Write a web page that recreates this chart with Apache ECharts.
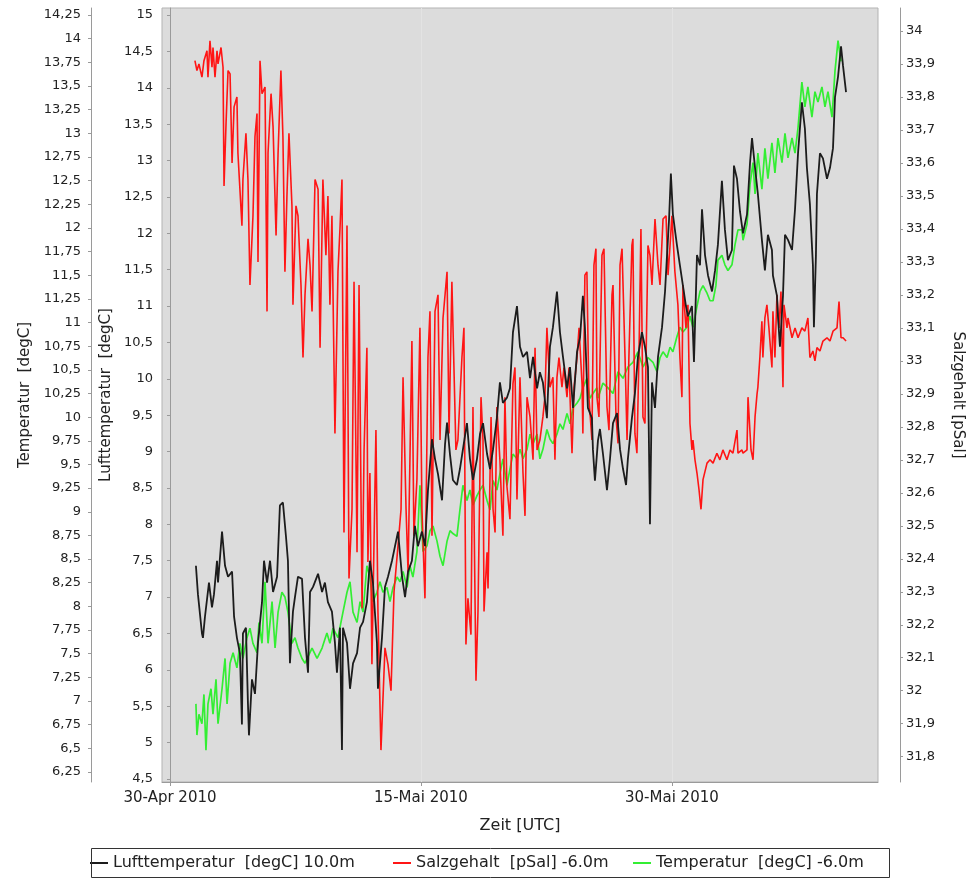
<!DOCTYPE html>
<html><head><meta charset="utf-8">
<script src="https://cdn.jsdelivr.net/npm/echarts@6/dist/echarts.min.js"></script>
<style>html,body{margin:0;padding:0;background:#fff}#c{width:973px;height:879px}</style>
</head><body><div id="c"></div>
<script>
// Zeit in Tagen seit 30-Apr-2010 00:00 UTC, Wert
const luftTemperatur = [[1.55,7.43],[1.67,7.04],[1.91,6.5],[1.97,6.44],[2.09,6.73],[2.33,7.2],[2.51,6.86],[2.63,7.04],[2.81,7.5],[2.87,7.2],[3.11,7.9],[3.29,7.43],[3.47,7.28],[3.71,7.35],[3.83,6.73],[4.0,6.44],[4.18,6.23],[4.3,5.25],[4.36,6.5],[4.54,6.58],[4.66,5.53],[4.72,5.1],[4.9,5.87],[5.08,5.67],[5.26,6.37],[5.5,6.93],[5.62,7.5],[5.8,7.2],[5.98,7.5],[6.16,7.07],[6.4,7.28],[6.57,8.26],[6.75,8.3],[6.93,7.84],[7.05,7.5],[7.17,6.09],[7.35,6.8],[7.47,7.0],[7.65,7.28],[7.89,7.25],[8.07,6.44],[8.25,5.96],[8.37,7.07],[8.55,7.14],[8.85,7.32],[9.09,7.07],[9.26,7.2],[9.44,6.93],[9.68,6.8],[9.86,6.37],[9.98,5.96],[10.16,6.58],[10.28,4.9],[10.34,6.58],[10.58,6.37],[10.76,5.74],[10.94,6.09],[11.18,6.23],[11.36,6.58],[11.54,6.66],[11.77,6.93],[11.95,7.5],[12.13,7.2],[12.37,6.37],[12.43,5.74],[12.67,6.44],[12.85,7.14],[13.03,7.28],[13.27,7.5],[13.45,7.7],[13.63,7.9],[13.87,7.28],[14.05,7.0],[14.23,7.35],[14.46,7.5],[14.64,7.98],[14.82,7.7],[15.06,7.9],[15.24,7.7],[15.42,8.47],[15.66,9.17],[15.84,8.9],[16.02,8.69],[16.26,8.33],[16.44,9.1],[16.56,9.4],[16.74,8.95],[16.91,8.61],[17.15,8.54],[17.33,8.76],[17.51,9.03],[17.75,9.39],[17.93,8.9],[18.11,8.61],[18.35,8.9],[18.53,9.24],[18.71,9.39],[18.95,8.97],[19.13,8.76],[19.31,9.03],[19.54,9.46],[19.72,9.95],[19.9,9.67],[20.14,9.74],[20.32,9.87],[20.5,10.64],[20.74,11.0],[20.92,10.44],[21.1,10.3],[21.34,10.37],[21.52,10.01],[21.7,10.3],[21.94,9.87],[22.11,10.09],[22.29,9.95],[22.53,9.46],[22.71,10.44],[22.89,10.71],[23.13,11.2],[23.31,10.64],[23.49,10.3],[23.73,9.87],[23.91,10.16],[24.09,9.6],[24.33,10.37],[24.51,10.57],[24.68,11.14],[24.8,10.71],[24.98,9.6],[25.22,9.46],[25.28,9.03],[25.4,8.6],[25.58,9.15],[25.7,9.31],[25.88,8.97],[26.12,8.47],[26.3,8.9],[26.48,9.39],[26.72,9.53],[26.9,9.03],[27.08,8.76],[27.26,8.54],[27.37,8.9],[27.61,9.46],[27.79,9.8],[27.97,10.3],[28.21,10.64],[28.39,10.44],[28.57,10.16],[28.69,8.0],[28.81,9.95],[28.99,9.6],[29.17,10.3],[29.41,10.71],[29.59,11.2],[29.71,11.7],[29.83,12.19],[29.94,12.82],[30.06,12.26],[30.3,11.84],[30.48,11.56],[30.66,11.28],[30.84,11.0],[30.96,10.86],[31.2,11.0],[31.32,10.23],[31.5,11.7],[31.68,11.56],[31.8,12.33],[31.98,11.7],[32.16,11.42],[32.4,11.2],[32.58,11.49],[32.75,11.84],[32.99,12.72],[33.17,12.05],[33.35,11.63],[33.59,11.77],[33.71,12.93],[33.89,12.75],[34.07,12.3],[34.25,12.0],[34.49,12.26],[34.67,12.97],[34.79,13.31],[34.97,12.9],[35.14,12.54],[35.38,11.91],[35.56,11.49],[35.74,11.98],[35.98,11.77],[36.04,11.42],[36.28,11.14],[36.34,10.86],[36.46,10.44],[36.64,11.14],[36.76,11.98],[36.94,11.91],[37.18,11.77],[37.36,12.33],[37.54,13.1],[37.77,13.8],[37.95,13.44],[38.07,12.9],[38.25,12.4],[38.43,11.56],[38.49,10.71],[38.61,11.7],[38.67,12.54],[38.85,13.1],[39.03,13.03],[39.27,12.75],[39.45,12.9],[39.63,13.17],[39.75,13.87],[39.93,14.15],[40.11,14.57],[40.23,14.3],[40.41,13.94]];

const salzgehalt = [[1.49,33.91],[1.61,33.88],[1.73,33.9],[1.91,33.86],[2.03,33.91],[2.21,33.94],[2.27,33.86],[2.39,33.97],[2.51,33.89],[2.57,33.95],[2.69,33.86],[2.81,33.94],[2.87,33.9],[3.05,33.95],[3.17,33.89],[3.23,33.53],[3.35,33.72],[3.47,33.88],[3.59,33.87],[3.71,33.6],[3.83,33.77],[4.0,33.8],[4.06,33.63],[4.3,33.41],[4.36,33.55],[4.54,33.69],[4.66,33.55],[4.78,33.23],[4.96,33.44],[5.08,33.68],[5.2,33.75],[5.26,33.3],[5.38,33.91],[5.5,33.81],[5.68,33.83],[5.8,33.15],[5.86,33.63],[6.04,33.81],[6.16,33.71],[6.34,33.38],[6.46,33.63],[6.63,33.88],[6.75,33.68],[6.87,33.27],[6.99,33.5],[7.11,33.69],[7.29,33.47],[7.35,33.17],[7.53,33.47],[7.65,33.44],[7.83,33.23],[7.95,33.01],[8.07,33.2],[8.25,33.37],[8.37,33.29],[8.49,33.15],[8.67,33.55],[8.85,33.52],[8.97,33.04],[9.14,33.55],[9.32,33.32],[9.44,33.5],[9.56,33.17],[9.68,33.44],[9.86,32.78],[10.04,33.27],[10.16,33.4],[10.28,33.55],[10.4,32.48],[10.58,33.41],[10.7,32.34],[10.88,32.55],[11.0,33.24],[11.18,32.42],[11.3,33.23],[11.48,32.25],[11.6,32.73],[11.77,33.04],[11.83,32.39],[11.95,32.66],[12.07,32.08],[12.31,32.79],[12.43,32.24],[12.61,31.82],[12.85,32.13],[13.03,32.08],[13.21,32.0],[13.39,32.3],[13.63,32.44],[13.81,32.55],[13.93,32.95],[14.11,32.55],[14.23,32.36],[14.46,33.06],[14.58,32.47],[14.76,32.64],[14.94,33.1],[15.06,32.55],[15.24,32.28],[15.42,33.01],[15.54,33.15],[15.66,32.47],[15.84,33.15],[16.02,33.2],[16.14,32.76],[16.32,33.13],[16.56,33.27],[16.68,32.78],[16.85,33.24],[17.09,32.73],[17.21,32.76],[17.45,33.01],[17.57,33.1],[17.69,32.14],[17.81,32.28],[17.99,32.17],[18.11,32.86],[18.17,32.55],[18.29,32.03],[18.41,32.24],[18.59,32.89],[18.71,32.76],[18.77,32.24],[18.95,32.42],[19.01,32.31],[19.19,32.83],[19.31,32.55],[19.43,32.48],[19.54,32.86],[19.72,32.7],[19.9,32.47],[20.02,32.89],[20.14,32.62],[20.32,32.52],[20.5,32.93],[20.62,32.98],[20.74,32.58],[20.92,32.95],[21.1,32.66],[21.22,32.53],[21.34,32.89],[21.52,32.83],[21.7,32.7],[21.82,33.04],[21.94,32.73],[22.11,32.76],[22.29,32.83],[22.41,32.89],[22.53,33.1],[22.71,32.92],[22.89,32.95],[23.01,32.7],[23.13,32.95],[23.25,33.01],[23.43,32.92],[23.55,32.98],[23.73,32.89],[23.85,32.98],[24.03,32.72],[24.15,32.92],[24.33,33.01],[24.45,33.1],[24.63,32.93],[24.68,32.78],[24.8,33.26],[24.92,33.27],[25.04,32.89],[25.22,32.76],[25.34,33.29],[25.46,33.34],[25.52,32.89],[25.64,32.83],[25.82,33.32],[25.94,33.34],[26.12,32.86],[26.24,32.79],[26.42,33.2],[26.48,33.23],[26.66,32.83],[26.78,32.75],[26.9,33.29],[27.02,33.34],[27.2,33.01],[27.32,32.76],[27.43,33.01],[27.61,33.35],[27.67,33.37],[27.79,32.78],[27.91,32.72],[28.03,33.01],[28.15,33.4],[28.27,32.83],[28.39,32.81],[28.57,33.35],[28.69,33.32],[28.81,33.23],[28.99,33.43],[29.17,33.29],[29.29,33.23],[29.47,33.43],[29.65,33.44],[29.77,33.26],[29.89,33.35],[30.0,33.44],[30.18,33.27],[30.36,33.17],[30.48,33.01],[30.6,32.89],[30.66,33.23],[30.84,33.1],[30.96,33.17],[31.08,32.81],[31.2,32.73],[31.26,32.76],[31.38,32.7],[31.5,32.66],[31.62,32.61],[31.74,32.55],[31.86,32.64],[32.1,32.69],[32.28,32.7],[32.46,32.69],[32.69,32.72],[32.87,32.7],[33.05,32.73],[33.29,32.7],[33.47,32.73],[33.65,32.72],[33.89,32.79],[33.95,32.72],[34.19,32.73],[34.25,32.72],[34.49,32.73],[34.55,32.89],[34.73,32.73],[34.85,32.7],[34.97,32.83],[35.09,32.9],[35.14,32.92],[35.26,33.01],[35.38,33.12],[35.44,33.01],[35.56,33.13],[35.68,33.17],[35.8,33.1],[35.98,32.98],[36.04,33.15],[36.16,33.01],[36.28,33.2],[36.4,33.1],[36.52,33.21],[36.64,32.92],[36.7,33.17],[36.88,33.1],[36.94,33.13],[37.18,33.07],[37.36,33.1],[37.54,33.07],[37.77,33.1],[37.95,33.09],[38.13,33.13],[38.25,33.01],[38.43,33.03],[38.55,33.0],[38.67,33.04],[38.85,33.03],[39.03,33.06],[39.27,33.07],[39.45,33.06],[39.63,33.09],[39.87,33.1],[39.99,33.18],[40.11,33.07],[40.23,33.07],[40.41,33.06]];

const wasserTemperatur = [[1.55,6.97],[1.61,6.64],[1.73,6.86],[1.91,6.76],[2.03,7.07],[2.15,6.48],[2.27,6.97],[2.45,7.13],[2.57,6.86],[2.75,7.23],[2.87,6.76],[3.11,7.13],[3.29,7.45],[3.41,6.97],[3.59,7.4],[3.77,7.51],[4.0,7.35],[4.18,7.61],[4.36,7.45],[4.6,7.67],[4.78,7.77],[4.96,7.61],[5.2,7.51],[5.32,7.83],[5.5,7.61],[5.68,8.26],[5.86,7.61],[6.1,8.05],[6.28,7.56],[6.46,7.94],[6.69,8.15],[6.87,8.1],[7.05,7.94],[7.29,7.61],[7.47,7.67],[7.65,7.56],[7.89,7.45],[8.07,7.4],[8.49,7.56],[8.79,7.45],[9.09,7.56],[9.38,7.72],[9.56,7.61],[9.74,7.77],[10.04,7.67],[10.34,7.94],[10.58,8.15],[10.76,8.26],[10.94,7.94],[11.18,7.83],[11.36,8.05],[11.54,7.94],[11.77,8.43],[11.95,8.31],[12.13,8.05],[12.37,8.15],[12.55,8.26],[12.73,8.15],[12.97,8.2],[13.15,8.05],[13.33,8.2],[13.57,8.31],[13.75,8.26],[13.93,8.37],[14.17,8.2],[14.34,8.43],[14.52,8.31],[14.76,8.58],[14.94,9.28],[15.12,8.58],[15.36,8.64],[15.54,8.8],[15.72,8.85],[15.96,8.69],[16.14,8.53],[16.32,8.43],[16.56,8.69],[16.74,8.8],[16.91,8.77],[17.15,8.74],[17.33,9.02],[17.51,9.28],[17.75,9.12],[17.93,9.23],[18.11,9.07],[18.35,9.17],[18.53,9.23],[18.71,9.28],[18.95,9.12],[19.13,9.02],[19.31,9.33],[19.54,9.23],[19.72,9.4],[19.9,9.56],[20.14,9.28],[20.32,9.45],[20.5,9.61],[20.74,9.56],[20.92,9.66],[21.1,9.56],[21.34,9.66],[21.52,9.82],[21.7,9.72],[21.94,9.82],[22.11,9.56],[22.29,9.66],[22.53,9.87],[22.71,9.77],[22.89,9.72],[23.13,9.82],[23.31,9.93],[23.49,9.87],[23.73,10.04],[23.91,9.93],[24.09,10.1],[24.33,10.15],[24.51,10.2],[24.68,10.31],[24.92,10.41],[25.1,10.2],[25.28,10.25],[25.52,10.31],[25.58,10.2],[25.88,10.36],[26.18,10.31],[26.48,10.25],[26.78,10.48],[27.08,10.41],[27.37,10.53],[27.67,10.58],[27.97,10.69],[28.27,10.53],[28.57,10.63],[28.87,10.58],[29.11,10.48],[29.29,10.63],[29.47,10.69],[29.71,10.63],[29.89,10.74],[30.06,10.69],[30.3,10.85],[30.48,10.95],[30.66,10.9],[30.9,10.95],[31.08,11.07],[31.26,10.95],[31.5,11.17],[31.68,11.33],[31.86,11.39],[32.1,11.31],[32.28,11.23],[32.46,11.23],[32.63,11.39],[32.75,11.66],[32.99,11.71],[33.17,11.61],[33.35,11.55],[33.59,11.61],[33.77,11.82],[33.95,11.98],[34.19,11.98],[34.25,11.87],[34.49,12.04],[34.67,12.46],[34.85,12.69],[34.97,12.36],[35.14,12.79],[35.38,12.41],[35.56,12.84],[35.74,12.52],[35.98,12.9],[36.16,12.58],[36.34,12.95],[36.58,12.69],[36.76,13.0],[36.94,12.74],[37.18,12.95],[37.36,12.79],[37.54,13.06],[37.77,13.54],[37.95,13.28],[38.13,13.49],[38.37,13.17],[38.55,13.44],[38.73,13.33],[38.97,13.49],[39.15,13.28],[39.33,13.44],[39.57,13.17],[39.75,13.66],[39.93,13.98],[40.11,13.76]];

const luftTicks = [4.5,5,5.5,6,6.5,7,7.5,8,8.5,9,9.5,10,10.5,11,11.5,12,12.5,13,13.5,14,14.5,15];
const salzTicks = [31.8,31.9,32,32.1,32.2,32.3,32.4,32.5,32.6,32.7,32.8,32.9,33,33.1,33.2,33.3,33.4,33.5,33.6,33.7,33.8,33.9,34];
const tempTicks = [6.25,6.5,6.75,7,7.25,7.5,7.75,8,8.25,8.5,8.75,9,9.25,9.5,9.75,10,10.25,10.5,10.75,11,11.25,11.5,11.75,12,12.25,12.5,12.75,13,13.25,13.5,13.75,14,14.25];
const zeitTicks = [0, 15, 30];
const monate = ['Jan','Feb','Mrz','Apr','Mai','Jun','Jul','Aug','Sep','Okt','Nov','Dez'];
const serienNamen = ['Lufttemperatur  [degC] 10.0m', 'Salzgehalt  [pSal] -6.0m', 'Temperatur  [degC] -6.0m'];

const FONT = 'DejaVu Sans';
const TXT = '#222';
const AX = '#9a9a9a';
const komma = v => String(Math.round(v * 100) / 100).replace('.', ',');
const datum = v => {
  const d = new Date(Date.UTC(2010, 3, 30) + Math.round(v) * 86400000);
  return String(d.getUTCDate()).padStart(2, '0') + '-' + monate[d.getUTCMonth()] + ' ' + d.getUTCFullYear();
};

function yAchse(o) {
  return {
    type: 'value', position: o.pos, offset: o.offset, min: o.min, max: o.max,
    name: o.name, nameLocation: 'middle', nameRotate: o.rot, nameGap: o.gap,
    nameTextStyle: { fontFamily: FONT, fontSize: 15, color: TXT },
    axisLine: { show: true, lineStyle: { color: AX, width: 1 } },
    axisTick: { show: true, customValues: o.ticks, length: 3, lineStyle: { color: AX } },
    axisLabel: { customValues: o.ticks, formatter: komma, fontFamily: FONT, fontSize: 13, color: TXT, margin: o.margin },
    splitLine: { show: false }
  };
}

const chart = echarts.init(document.getElementById('c'));
const legendeBasis = {
  orient: 'horizontal', top: 855, padding: 0, itemWidth: 18, itemHeight: 2, icon: 'rect',
  textStyle: { fontFamily: FONT, fontSize: 16, color: TXT }
};
chart.setOption({
  animation: false,
  backgroundColor: '#ffffff',
  grid: { left: 162, right: 95, top: 8, bottom: 97, show: true, backgroundColor: '#dcdcdc', borderColor: '#b3b3b3', borderWidth: 1 },
  xAxis: {
    type: 'value', min: -0.478, max: 42.32,
    name: 'Zeit [UTC]', nameLocation: 'middle', nameGap: 36,
    nameTextStyle: { fontFamily: FONT, fontSize: 16, color: TXT },
    axisLine: { show: true, onZero: false, lineStyle: { color: AX } },
    axisTick: { show: true, customValues: zeitTicks, length: 4, lineStyle: { color: AX } },
    axisLabel: { customValues: zeitTicks, formatter: datum, fontFamily: FONT, fontSize: 15, color: TXT, margin: 9 },
    splitLine: { show: true, lineStyle: { color: '#e3e3e3', width: 1 } }
  },
  yAxis: [
    yAchse({ pos: 'left', offset: 0, min: 4.4588, max: 15.0962, ticks: luftTicks, name: 'Lufttemperatur  [degC]', rot: 90, gap: 48, margin: 9 }),
    yAchse({ pos: 'right', offset: 22, min: 31.7233, max: 34.0697, ticks: salzTicks, name: 'Salzgehalt [pSal]', rot: -90, gap: 50, margin: 6 }),
    yAchse({ pos: 'left', offset: 71, min: 6.1443, max: 14.324, ticks: tempTicks, name: 'Temperatur  [degC]', rot: 90, gap: 58, margin: 10 })
  ],
  legend: [
    Object.assign({ data: [serienNamen[0]], left: 90 }, legendeBasis),
    Object.assign({ data: [serienNamen[1]], left: 393 }, legendeBasis),
    Object.assign({ data: [serienNamen[2]], left: 633 }, legendeBasis)
  ],
  graphic: [{
    type: 'rect', shape: { x: 91.5, y: 848.5, width: 798, height: 29 },
    style: { fill: 'none', stroke: '#333', lineWidth: 1 }, silent: true, z: 100
  }],
  series: [
    { name: serienNamen[2], type: 'line', yAxisIndex: 2, data: wasserTemperatur, showSymbol: false, symbol: 'none',
      lineStyle: { color: '#33ee33', width: 1.7 }, itemStyle: { color: '#33ee33' } },
    { name: serienNamen[1], type: 'line', yAxisIndex: 1, data: salzgehalt, showSymbol: false, symbol: 'none',
      lineStyle: { color: '#ff1515', width: 1.6 }, itemStyle: { color: '#ff1515' } },
    { name: serienNamen[0], type: 'line', yAxisIndex: 0, data: luftTemperatur, showSymbol: false, symbol: 'none',
      lineStyle: { color: '#1c1c1c', width: 1.8 }, itemStyle: { color: '#1c1c1c' } }
  ]
});
</script>
</body></html>
